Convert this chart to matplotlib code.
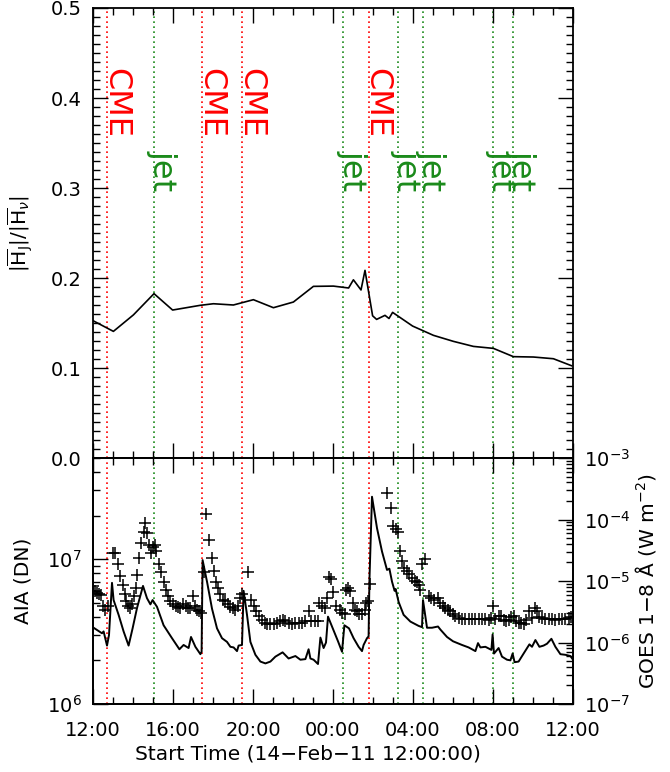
import matplotlib
matplotlib.use("Agg")
import matplotlib.pyplot as plt
import numpy as np
from matplotlib.ticker import FixedLocator, FixedFormatter, MultipleLocator, LogLocator, NullFormatter

# ---------------- data (hours since 14-Feb-11 12:00) ----------------
tick_hours = [0, 4, 8, 12, 16, 20, 24]
tick_labels = ["12:00", "16:00", "20:00", "00:00", "04:00", "08:00", "12:00"]

cme_times = [0.72, 5.45, 7.47, 13.78]
jet_times = [3.05, 12.52, 15.25, 16.48, 20.0, 20.98]

ratio_t = [0.0, 1.02, 2.02, 3.05, 3.98, 5.35, 6.02, 7.02, 8.02, 9.02, 10.02, 11.02,
           12.02, 12.78, 13.02, 13.4, 13.6, 13.98, 14.18, 14.6, 14.8, 14.98, 15.98,
           17.02, 18.02, 19.02, 20.02, 21.02, 22.02, 23.02, 23.93]
ratio_v = [0.1526, 0.1407, 0.159, 0.1826, 0.1644, 0.1696, 0.1714, 0.170, 0.1759, 0.167,
           0.1733, 0.1907, 0.191, 0.1889, 0.198, 0.1867, 0.2085, 0.158, 0.154, 0.1585,
           0.155, 0.1618, 0.1466, 0.1363, 0.1296, 0.124, 0.1218, 0.1126, 0.1122, 0.1103,
           0.1025]

# GOES 1-8 A flux, log10(W m^-2)
goes_t = [0.03, 0.45, 0.53, 0.70, 0.80, 0.95, 1.03, 1.28, 1.53, 1.78, 1.98, 2.20, 2.50,
          2.70, 2.87, 2.98, 3.20, 3.53, 3.95, 4.32, 4.53, 4.78, 4.90, 5.12, 5.37, 5.43,
          5.48, 5.70, 5.95, 6.20, 6.45, 6.70, 6.87, 7.03, 7.20, 7.28, 7.45, 7.53, 7.70,
          7.87, 8.12, 8.37, 8.62, 8.87, 9.12, 9.48, 9.78, 10.12, 10.37, 10.62, 10.78,
          10.87, 11.03, 11.25, 11.37, 11.53, 11.65, 11.75, 12.00, 12.25, 12.45, 12.57,
          12.80, 13.03, 13.28, 13.45, 13.53, 13.70, 13.78, 13.82, 13.95, 14.20, 14.45,
          14.70, 14.82, 14.95, 15.08, 15.13, 15.28, 15.53, 15.87, 16.28, 16.45, 16.50,
          16.58, 16.70, 16.95, 17.25, 17.37, 17.70, 18.00, 18.45, 18.78, 19.12, 19.25,
          19.37, 19.62, 19.92, 19.98, 20.05, 20.28, 20.45, 20.70, 20.87, 20.98, 21.08,
          21.28, 21.53, 21.82, 21.95, 22.12, 22.32, 22.53, 22.70, 22.92, 23.12, 23.37,
          23.62, 23.87, 24.00]
goes_log10 = [-5.76, -5.85, -5.82, -6.05, -5.88, -5.03, -5.31, -5.55, -5.82, -6.05, -5.77,
              -5.44, -5.08, -5.28, -5.38, -5.31, -5.42, -5.72, -5.93, -6.11, -6.04, -6.09,
              -5.91, -6.07, -6.19, -6.15, -4.66, -5.01, -5.45, -5.77, -5.93, -5.99, -6.07,
              -6.08, -6.14, -6.05, -6.04, -5.16, -5.55, -5.99, -6.20, -6.31, -6.34, -6.31,
              -6.23, -6.16, -6.26, -6.22, -6.28, -6.27, -6.11, -6.26, -6.28, -6.35, -5.92,
              -6.09, -6.00, -5.58, -5.78, -5.98, -6.15, -5.72, -5.77, -5.93, -6.07, -6.14,
              -6.04, -5.93, -5.90, -5.01, -3.63, -4.14, -4.52, -4.82, -4.80, -5.01, -5.16,
              -5.13, -5.34, -5.55, -5.66, -5.73, -5.75, -5.31, -5.49, -5.76, -5.76, -5.74,
              -5.79, -5.91, -5.98, -6.04, -6.08, -6.14, -6.01, -6.08, -6.07, -6.12, -5.87,
              -6.18, -6.09, -6.23, -6.28, -6.29, -6.18, -6.32, -6.31, -6.18, -6.03, -6.07,
              -5.96, -6.07, -6.05, -6.02, -5.94, -6.07, -6.19, -6.20, -6.22, -6.28]

# AIA counts, log10(DN)
aia_t = [0.00, 0.10, 0.20, 0.30, 0.40, 0.50, 0.60, 0.75, 1.00, 1.08, 1.25, 1.37, 1.50,
         1.58, 1.67, 1.75, 1.87, 1.97, 2.03, 2.13, 2.20, 2.30, 2.42, 2.53, 2.62, 2.70,
         2.80, 2.92, 3.00, 3.08, 3.17, 3.30, 3.42, 3.53, 3.63, 3.75, 3.87, 4.00, 4.13,
         4.25, 4.37, 4.50, 4.63, 4.75, 4.87, 5.00, 5.08, 5.20, 5.30, 5.42, 5.53, 5.65,
         5.82, 5.95, 6.03, 6.15, 6.25, 6.37, 6.48, 6.62, 6.75, 6.87, 6.98, 7.12, 7.25,
         7.37, 7.45, 7.75, 7.92, 8.03, 8.15, 8.28, 8.45, 8.58, 8.70, 8.87, 9.03, 9.20,
         9.37, 9.48, 9.62, 9.78, 9.95, 10.12, 10.28, 10.45, 10.62, 10.82, 10.92, 11.08,
         11.25, 11.32, 11.45, 11.58, 11.70, 11.78, 11.92, 12.00, 12.15, 12.33, 12.47,
         12.58, 12.65, 12.75, 12.87, 12.98, 13.08, 13.20, 13.32, 13.45, 13.58, 13.65,
         13.75, 13.85, 14.70, 14.92, 15.00, 15.13, 15.23, 15.33, 15.43, 15.57, 15.68,
         15.82, 15.97, 16.08, 16.20, 16.30, 16.37, 16.45, 16.60, 16.78, 16.92, 17.03,
         17.25, 17.37, 17.48, 17.62, 17.75, 17.87, 17.98, 18.12, 18.28, 18.45, 18.62,
         18.78, 18.95, 19.12, 19.28, 19.45, 19.62, 19.78, 19.92, 20.00, 20.12, 20.28,
         20.42, 20.53, 20.65, 20.78, 20.92, 21.03, 21.17, 21.28, 21.42, 21.53, 21.65,
         21.78, 21.95, 22.08, 22.20, 22.32, 22.45, 22.62, 22.78, 22.95, 23.12, 23.28,
         23.45, 23.62, 23.78, 23.92]
aia_log10 = [6.815, 6.78, 6.77, 6.757, 6.75, 6.676, 6.65, 6.676, 7.04, 7.04, 6.965, 6.884,
             6.82, 6.76, 6.71, 6.676, 6.66, 6.69, 6.745, 6.80, 6.89, 7.01, 7.11, 7.185,
             7.25, 7.18, 7.10, 7.04, 7.085, 7.10, 7.06, 6.97, 6.91, 6.845, 6.79, 6.745,
             6.71, 6.69, 6.68, 6.67, 6.66, 6.69, 6.676, 6.665, 6.66, 6.745, 6.676, 6.65,
             6.64, 6.63, 6.91, 7.31, 7.13, 7.01, 6.92, 6.84, 6.80, 6.757, 6.72, 6.71,
             6.69, 6.67, 6.66, 6.65, 6.676, 6.73, 6.76, 6.91, 6.715, 6.676, 6.64, 6.606,
             6.58, 6.56, 6.55, 6.55, 6.55, 6.56, 6.57, 6.58, 6.57, 6.56, 6.55, 6.56, 6.56,
             6.56, 6.57, 6.64, 6.575, 6.57, 6.57, 6.70, 6.676, 6.66, 6.73, 6.88, 6.865,
             6.775, 6.68, 6.65, 6.63, 6.62, 6.79, 6.80, 6.78, 6.70, 6.65, 6.64, 6.62,
             6.62, 6.65, 6.70, 6.71, 6.83, 7.46, 7.354, 7.23, 7.21, 7.185, 7.06, 6.99,
             6.94, 6.92, 6.90, 6.87, 6.85, 6.84, 6.82, 6.79, 6.97, 7.00, 6.745, 6.73,
             6.715, 6.73, 6.70, 6.68, 6.665, 6.65, 6.64, 6.62, 6.606, 6.595, 6.59, 6.59,
             6.59, 6.59, 6.59, 6.59, 6.59, 6.59, 6.58, 6.595, 6.68, 6.59, 6.606, 6.61,
             6.58, 6.57, 6.58, 6.60, 6.606, 6.57, 6.56, 6.56, 6.55, 6.58, 6.64, 6.595,
             6.66, 6.64, 6.60, 6.595, 6.59, 6.59, 6.59, 6.58, 6.59, 6.59, 6.59, 6.595,
             6.60]

# ---------------- figure ----------------
plt.rcParams['font.family'] = ['DejaVu Sans']
plt.rcParams['mathtext.fontset'] = 'dejavusans'
W, H = 670, 772
fig = plt.figure(figsize=(W / 100, H / 100), dpi=100)

L, R = 93, 573
ax1 = fig.add_axes([L / W, 1 - 458 / H, (R - L) / W, 450 / H])
ax2 = fig.add_axes([L / W, 1 - 704 / H, (R - L) / W, 246 / H])
ax2r = ax2.twinx()

RED = '#ff0000'
GREEN = '#1a8a1a'
TFS = 14
LFS = 14.5

for ax in (ax1, ax2):
    for t in cme_times:
        ax.axvline(t, color=RED, ls=(0, (1, 2)), lw=1.2, zorder=1)
    for t in jet_times:
        ax.axvline(t, color=GREEN, ls=(0, (1, 2)), lw=1.2, zorder=1)

# top panel
ax1.plot(ratio_t, ratio_v, color='black', lw=1.2, zorder=3)
ax1.set_ylim(0, 0.5)
ax1.set_xlim(0, 24)
for t in cme_times:
    ax1.text(t, 0.4337, 'CME', color=RED, fontsize=23, rotation=-90,
             rotation_mode='anchor', ha='left', va='baseline', zorder=4)
for t in jet_times:
    ax1.text(t, 0.3426, 'jet', color=GREEN, fontsize=23, rotation=-90,
             rotation_mode='anchor', ha='left', va='baseline', zorder=4)
ax1.yaxis.set_major_locator(MultipleLocator(0.1))
ax1.yaxis.set_minor_locator(MultipleLocator(0.01))
ax1.yaxis.set_major_formatter(matplotlib.ticker.FormatStrFormatter('%.1f'))
ax1.set_ylabel(r'$|\overline{\mathrm{H}}_{\mathrm{J}}|/|\overline{\mathrm{H}}_{\nu}|$', fontsize=LFS)
ax1.yaxis.set_label_coords(-0.121, 0.5)

# bottom panel
ax2.plot(aia_t, [10 ** v for v in aia_log10], ls='none', marker='+', ms=8.5, mew=1.1,
         color='black', zorder=3)
ax2r.plot(goes_t, [10 ** v for v in goes_log10], color='black', lw=1.4, zorder=3)
ax2.set_yscale('log')
ax2.set_ylim(1e6, 5e7)
ax2r.set_yscale('log')
ax2r.set_ylim(1e-7, 1e-3)
ax2.set_xlim(0, 24)
ax2.set_ylabel('AIA (DN)', fontsize=LFS)
ax2.yaxis.set_label_coords(-0.125, 0.5)
ax2r.set_ylabel(u'GOES 1\u22128 \u00c5 (W m$^{-2}$)', fontsize=LFS)
ax2r.yaxis.set_label_coords(1.125, 0.5)
ax2.yaxis.set_major_locator(LogLocator(base=10, numticks=10))
ax2.yaxis.set_minor_locator(LogLocator(base=10, subs=np.arange(2, 10), numticks=20))
ax2.yaxis.set_minor_formatter(NullFormatter())
ax2r.yaxis.set_major_locator(LogLocator(base=10, numticks=10))
ax2r.yaxis.set_minor_locator(LogLocator(base=10, subs=np.arange(2, 10), numticks=20))
ax2r.yaxis.set_minor_formatter(NullFormatter())

ax2.set_xlabel(u'Start Time (14\u2212Feb\u221211 12:00:00)', fontsize=LFS)
ax2.xaxis.set_label_coords(0.448, -0.165)

for ax in (ax1, ax2):
    ax.xaxis.set_major_locator(FixedLocator(tick_hours))
    ax.xaxis.set_minor_locator(MultipleLocator(1))
ax2.xaxis.set_major_formatter(FixedFormatter(tick_labels))
ax1.tick_params(axis='x', labelbottom=False)

ax1.tick_params(which='both', direction='in', top=True, bottom=True, left=True, right=True,
                labelsize=TFS, width=1.0)
ax1.tick_params(which='major', length=11, pad=8)
ax1.tick_params(which='minor', length=5)
ax2.tick_params(which='both', direction='in', top=True, bottom=True, left=True, right=False,
                labelsize=TFS, width=1.0)
ax2.tick_params(which='major', length=11, pad=8)
ax2.tick_params(which='minor', length=5)
ax2.tick_params(axis='x', pad=12)
ax2r.tick_params(which='both', direction='in', right=True, left=False, labelsize=TFS, width=1.0)
ax2r.tick_params(which='major', length=11, pad=8)
ax2r.tick_params(which='minor', length=5)

for ax in (ax1, ax2, ax2r):
    for s in ax.spines.values():
        s.set_linewidth(1.3)

fig.savefig('out.png', dpi=100)
